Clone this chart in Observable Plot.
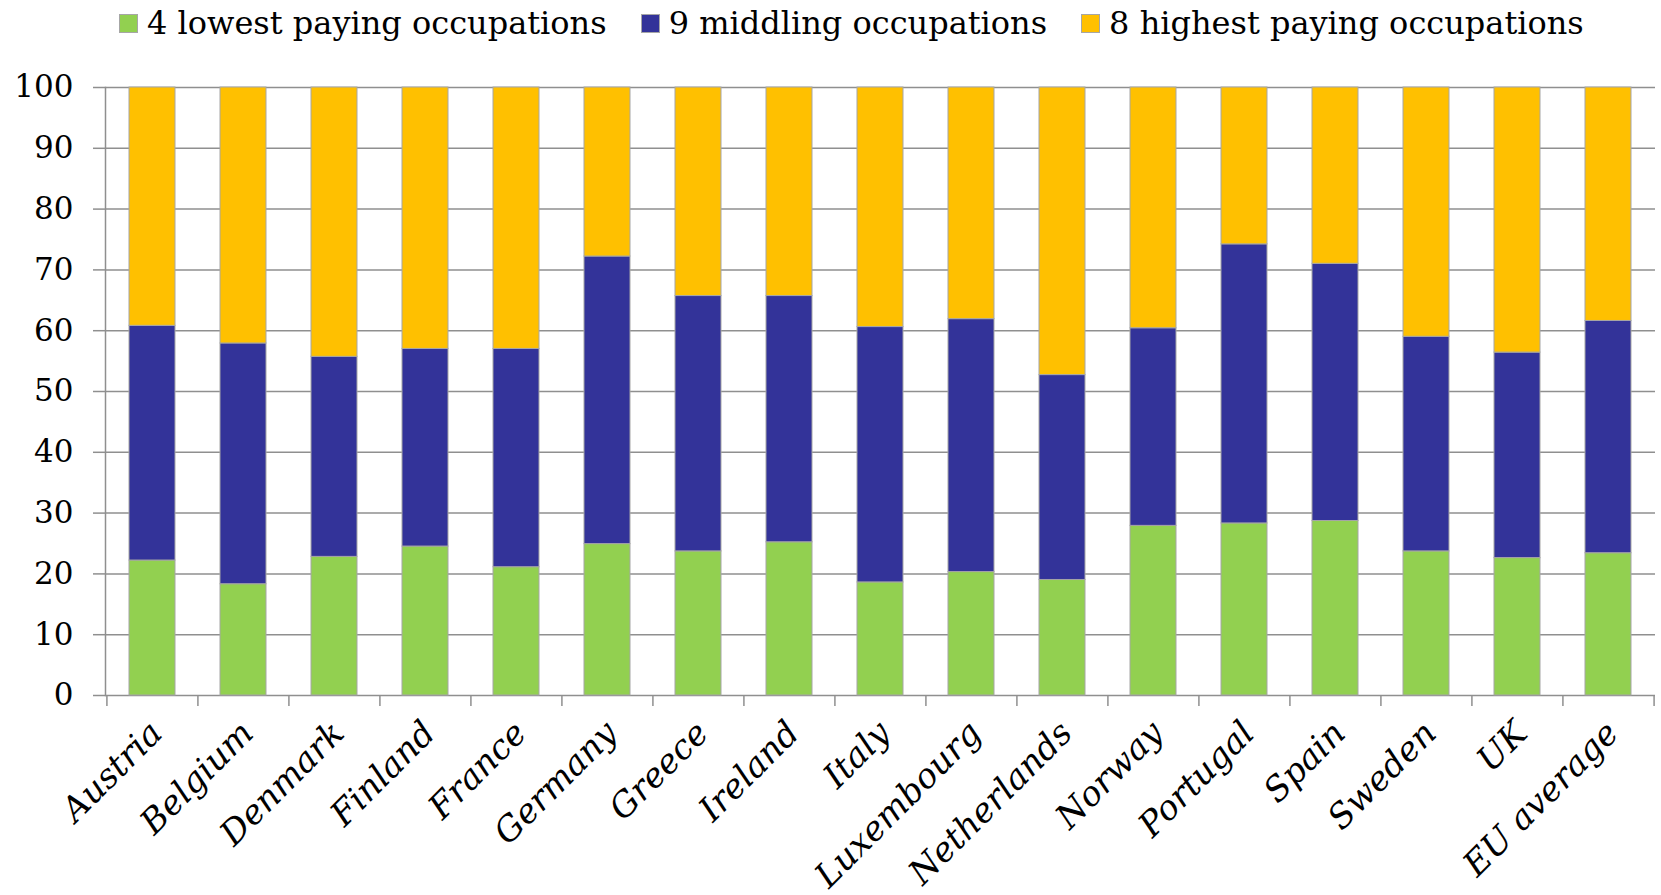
<!DOCTYPE html>
<html>
<head>
<meta charset="utf-8">
<script src="https://cdn.jsdelivr.net/npm/d3@7"></script>
<script src="https://cdn.jsdelivr.net/npm/@observablehq/plot@0.6"></script>
<style>
  html, body { margin: 0; padding: 0; background: #fff; }
  #legend { height: 46px; display: flex; align-items: center; padding-left: 119px; font-family: "DejaVu Serif", serif; font-size: 32px; color: #000; box-sizing: border-box; }
  .item { display: flex; align-items: center; margin-right: 34px; white-space: nowrap; }
  .sw { width: 19px; height: 19px; margin-right: 9px; box-sizing: border-box; border: 1px solid #a6a6a6; }
</style>
</head>
<body>
<div id="legend"></div>
<div id="chart"></div>
<script>
const countries = ["Austria","Belgium","Denmark","Finland","France","Germany","Greece","Ireland","Italy","Luxembourg","Netherlands","Norway","Portugal","Spain","Sweden","UK","EU average"];
const seriesNames = ["4 lowest paying occupations","9 middling occupations","8 highest paying occupations"];
const seriesColors = ["#92D050","#333399","#FFC000"];
const lowest   = [22.2,18.3,22.8,24.5,21.1,24.9,23.7,25.2,18.6,20.3,19.0,27.9,28.3,28.7,23.7,22.6,23.4];
const middling = [38.6,39.6,32.9,32.5,35.9,47.3,42.0,40.5,42.0,41.6,33.7,32.5,45.9,42.3,35.3,33.8,38.2];
const highest  = [39.2,42.1,44.3,43.0,43.0,27.8,34.3,34.3,39.4,38.1,47.3,39.6,25.8,29.0,41.0,43.6,38.4];
const yTicks = [0,10,20,30,40,50,60,70,80,90,100];

const seriesValues = [lowest, middling, highest];
const rows = [];
countries.forEach((c, i) => {
  seriesNames.forEach((s, j) => rows.push({country: c, series: s, value: seriesValues[j][i]}));
});

// legend
const legend = document.getElementById("legend");
seriesNames.forEach((s, j) => {
  const it = document.createElement("div"); it.className = "item";
  const sw = document.createElement("div"); sw.className = "sw"; sw.style.background = seriesColors[j];
  const tx = document.createElement("span"); tx.textContent = s;
  it.appendChild(sw); it.appendChild(tx); legend.appendChild(it);
});

const W = 1661, H = 895 - 46;
const mL = 105, mR = 6, mT = 41, mB = 200;
const pI = 0.5, pO = 0.25;
const step = (W - mL - mR) / (countries.length - pI + 2 * pO);
const grid = "#8f8f8f";
const font = "DejaVu Serif";

const chart = Plot.plot({
  width: W, height: H,
  marginLeft: mL, marginRight: mR, marginTop: mT, marginBottom: mB,
  style: {background: "#fff", fontFamily: font},
  x: {domain: countries, paddingInner: pI, paddingOuter: pO, label: null},
  y: {domain: [0, 100], label: null},
  color: {domain: seriesNames, range: seriesColors},
  marks: [
    Plot.ruleY(yTicks, {stroke: grid, strokeWidth: 1.5}),
    Plot.frame({anchor: "left", stroke: grid, strokeWidth: 1.5}),
    Plot.axisY({ticks: yTicks, tickSize: 12, tickPadding: 20, stroke: grid, strokeWidth: 1.5, fill: "#000", fontSize: 31, fontFamily: font, label: null}),
    Plot.axisX({tickSize: 11, dx: -step / 2, stroke: grid, strokeWidth: 1.5, tickFormat: () => "", label: null}),
    Plot.axisX({ticks: [countries[countries.length - 1]], tickSize: 11, dx: step / 2, stroke: grid, strokeWidth: 1.5, tickFormat: () => "", label: null}),
    Plot.axisX({tickSize: 0, tickRotate: -45, tickPadding: 32, dx: 4, fill: "#000", fontSize: 34, fontFamily: font, fontStyle: "italic", label: null}),
    Plot.barY(rows, Plot.stackY({x: "country", y: "value", fill: "series", stroke: "#a6a6a6", strokeWidth: 1}))
  ]
});
document.getElementById("chart").appendChild(chart);
</script>
</body>
</html>
